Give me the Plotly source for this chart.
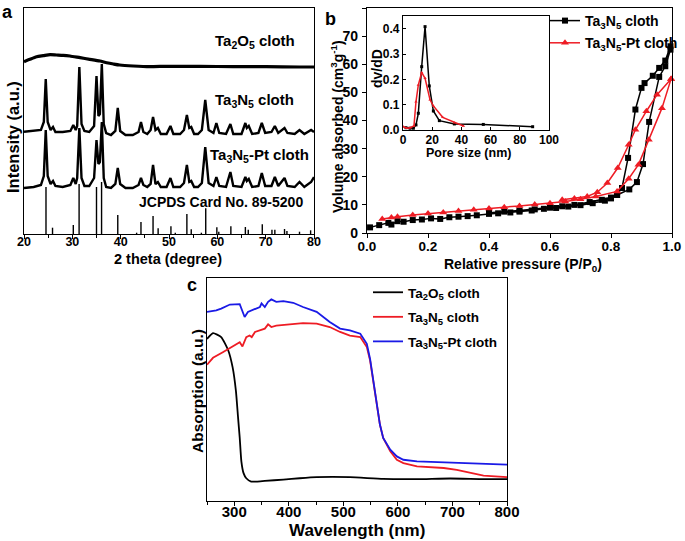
import plotly.graph_objects as go

W, H = 685, 541
FONT = "Liberation Sans, Arial, sans-serif"


def px_x(x):
    return x / W


def px_y(y):
    return 1 - y / H


# ---------------- Panel a : XRD ----------------
ta2o5_theta = [20, 21.2, 22.6, 24.0, 25.4, 26.7, 28.1, 29.5, 31.6, 33.6, 35.7, 37.1, 38.5,
               39.8, 42.6, 46.0, 49.5, 52.9, 56.4, 63.3, 70.1, 77.0, 80]
ta2o5_int = [172.3, 174.7, 177.3, 178.3, 179.3, 179.0, 178.7, 178.0, 176.3, 174.7, 173.0, 171.3,
             170.0, 169.0, 168.0, 167.3, 167.7, 167.7, 167.7, 167.3, 167.3, 167.0, 167.0]

xrd_theta = [20, 22, 23.5, 24.1, 24.5, 24.9, 25.5, 26.0, 26.5, 28, 29.6, 30.2, 30.7, 31.0,
             31.45, 31.9, 32.5, 33.5, 34.5, 35.0, 35.4, 35.7, 36.1, 36.5, 37.0, 38.0, 38.9,
             39.4, 39.9, 41, 42.5, 43.7, 44.2, 44.7, 45.5, 46.2, 46.7, 47.2, 47.7, 48.3, 49.5,
             50.3, 50.9, 52.3, 53.1, 53.7, 54.2, 54.6, 55.2, 56.0, 56.8, 57.5, 58.2, 59.2,
             59.8, 60.4, 61.8, 62.7, 63.3, 65.0, 65.8, 66.1, 66.5, 67.2, 68.5, 69.2, 69.9,
             71.2, 71.9, 72.6, 73.9, 74.5, 76, 77, 78, 79.4, 80]
ta3n5_int = [102.3, 103, 104, 112, 155, 112, 104, 107, 102, 102, 103, 109, 104, 108,
             167, 110, 103, 102, 108, 158, 118, 120, 170, 110, 101, 99, 103,
             126, 103, 99, 99, 102, 112, 102, 100, 104, 117, 104, 106, 100, 100,
             108, 100, 100, 104, 119, 106, 107, 100, 100, 104, 134, 104, 101,
             111, 101, 100, 110, 100, 100, 111, 106, 108, 100, 101, 111, 101,
             102, 108, 101, 106, 101, 100, 104, 100, 104, 102]
ta3n5pt_int = [46, 47, 49, 58, 104, 58, 50, 53, 48, 47, 49, 56, 50, 56,
               106, 56, 48, 48, 56, 94, 70, 72, 112, 56, 47, 46, 50,
               66, 50, 46, 46, 49, 56, 49, 47, 50, 69, 50, 52, 47, 47,
               56, 47, 47, 51, 69, 52, 53, 47, 47, 51, 87, 51, 48,
               57, 48, 47, 62, 48, 47, 57, 53, 55, 47, 48, 61, 48,
               48, 57, 48, 56, 48, 47, 52, 47, 52, 57]

stick_theta = [24.55, 25.9, 30.2, 31.4, 35.0, 36.05, 39.4, 43.3, 44.2, 46.7, 47.75, 50.4, 51.3,
               53.7, 54.6, 56.7, 57.6, 59.9, 60.3, 62.8, 65.8, 66.4, 69.3, 71.3, 71.9, 73.9,
               74.4, 77.0, 79.3]
stick_height = [47, 6.3, 9, 50, 47, 52, 19, 1.3, 12, 18, 5.7, 7.7, 1.3, 20, 4.7, 1.3, 25.7,
                6.7, 2.3, 7.7, 7, 4.3, 9.7, 4.3, 4.3, 5, 3, 2.3, 3.7]

# ---------------- Panel b : N2 isotherms ----------------
ta3n5_p = [0.01, 0.04, 0.07, 0.08, 0.10, 0.12, 0.15, 0.18, 0.21, 0.24, 0.27, 0.30, 0.33, 0.36,
           0.40, 0.43, 0.47, 0.50, 0.54, 0.58, 0.62, 0.66, 0.70, 0.74, 0.78, 0.80, 0.82, 0.86,
           0.885, 0.905, 0.925, 0.958, 0.978, 0.995,
           0.995, 0.978, 0.958, 0.937, 0.91, 0.90, 0.88, 0.856, 0.836, 0.82, 0.80, 0.77,
           0.73, 0.68, 0.64, 0.60, 0.55, 0.50, 0.45, 0.40]
ta3n5_v = [2.0, 2.8, 3.6, 3.0, 4.2, 4.0, 4.6, 4.8, 5.2, 5.0, 5.6, 5.8, 6.0, 6.3,
           6.8, 7.0, 7.3, 7.6, 8.0, 8.6, 8.9, 9.4, 9.9, 10.6, 11.5, 12.3, 13.5, 15.5,
           18.1, 24.5, 39.5, 55.5, 59.3, 65.2,
           66.4, 61.3, 58.7, 55.9, 53.3, 51.6, 43.9, 26.7, 16.0, 13.6, 12.6, 11.8,
           11.0, 10.0, 9.5, 9.0, 8.4, 8.0, 7.6, 7.2]
ta3n5pt_p = [0.05, 0.08, 0.10, 0.15, 0.20, 0.25, 0.30, 0.35, 0.40, 0.45, 0.50, 0.55, 0.60,
             0.65, 0.70, 0.75, 0.82, 0.858, 0.89, 0.924, 0.967, 0.997,
             0.997, 0.951, 0.916, 0.88, 0.858, 0.822, 0.788, 0.755, 0.722, 0.68, 0.64]
ta3n5pt_v = [5.0, 5.5, 5.8, 6.4, 6.9, 7.3, 7.8, 8.3, 8.7, 9.2, 9.6, 10.1, 10.6,
             11.2, 12.0, 13.0, 14.8, 19.3, 24.3, 33.2, 44.4, 54.8,
             54.8, 49.2, 43.3, 36.7, 31.4, 23.1, 17.8, 14.5, 13.0, 12.3, 11.8]

# inset: pore size distribution
psd_ta3n5_d = [2.05, 4.8, 7.1, 8.9, 10.5, 12.8, 15.1, 18.0, 20.8, 24.9, 35.2, 55.0, 88.8]
psd_ta3n5_v = [0.009, 0.007, 0.007, 0.020, 0.066, 0.250, 0.408, 0.174, 0.075, 0.037, 0.024,
               0.022, 0.013]
psd_pt_d = [0.2, 2.5, 4.8, 7.5, 8.9, 10.5, 12.8, 15.1, 18.5, 20.8, 27.2, 35.2, 41.4]
psd_pt_v = [0.013, 0.007, 0.009, 0.016, 0.112, 0.178, 0.227, 0.204, 0.119, 0.095, 0.050,
            0.029, 0.016]

# ---------------- Panel c : UV-vis ----------------
ta2o5_wl = [250, 261, 276, 289, 297, 303, 307, 310, 313, 317, 322, 331, 341, 356, 390, 420,
            451, 512, 573, 635, 696, 757, 800]
ta2o5_abs = [0.727, 0.753, 0.735, 0.675, 0.599, 0.494, 0.373, 0.283, 0.178, 0.125, 0.102,
             0.087, 0.087, 0.090, 0.096, 0.102, 0.107, 0.107, 0.099, 0.098, 0.101, 0.098, 0.098]
ta3n5_wl = [250, 261, 279, 298, 310, 315, 322, 328, 332, 338, 347, 356, 362, 368, 377, 402,
            426, 451, 475, 494, 512, 531, 543, 549, 555, 561, 567, 573, 586, 598, 610, 635,
            659, 684, 708, 733, 757, 800]
ta3n5_abs = [0.611, 0.642, 0.667, 0.693, 0.712, 0.693, 0.735, 0.742, 0.735, 0.758, 0.765,
             0.773, 0.792, 0.780, 0.786, 0.792, 0.798, 0.795, 0.780, 0.758, 0.742, 0.735,
             0.690, 0.630, 0.539, 0.434, 0.343, 0.283, 0.223, 0.185, 0.170, 0.155, 0.151,
             0.148, 0.140, 0.125, 0.114, 0.107]
pt_wl = [250, 267, 276, 292, 310, 313, 319, 325, 331, 341, 347, 350, 356, 362, 368, 377, 390,
         408, 426, 451, 475, 494, 512, 531, 543, 549, 555, 561, 567, 573, 586, 598, 610, 635,
         696, 757, 800]
pt_abs = [0.848, 0.855, 0.863, 0.881, 0.883, 0.863, 0.825, 0.848, 0.855, 0.863, 0.870,
          0.886, 0.870, 0.893, 0.904, 0.893, 0.896, 0.889, 0.870, 0.848, 0.803, 0.773,
          0.765, 0.750, 0.705, 0.637, 0.539, 0.434, 0.343, 0.283, 0.230, 0.200, 0.185,
          0.178, 0.173, 0.169, 0.163]

RED = "#ee1c24"
BLUE = "#1a1ae6"

fig = go.Figure()

# ---- panel a traces ----
sx, sy = [], []
for t, h in zip(stick_theta, stick_height):
    sx += [t, t, None]
    sy += [0, h, None]
fig.add_trace(go.Scatter(x=sx, y=sy, mode="lines", line=dict(color="black", width=1.4),
                         xaxis="x", yaxis="y", showlegend=False))
fig.add_trace(go.Scatter(x=ta2o5_theta, y=ta2o5_int, mode="lines",
                         line=dict(color="black", width=3.2, shape="spline", smoothing=0.6),
                         xaxis="x", yaxis="y", showlegend=False))
fig.add_trace(go.Scatter(x=xrd_theta, y=ta3n5_int, mode="lines",
                         line=dict(color="black", width=2.4),
                         xaxis="x", yaxis="y", showlegend=False))
fig.add_trace(go.Scatter(x=xrd_theta, y=ta3n5pt_int, mode="lines",
                         line=dict(color="black", width=2.4),
                         xaxis="x", yaxis="y", showlegend=False))

# ---- panel b traces ----
fig.add_trace(go.Scatter(x=ta3n5_p, y=ta3n5_v, mode="lines+markers",
                         name="Ta<sub>3</sub>N<sub>5</sub> cloth",
                         line=dict(color="black", width=1.5),
                         marker=dict(symbol="square", size=6, color="black"),
                         xaxis="x2", yaxis="y2", legend="legend", legendgroup="g1",
                         cliponaxis=False))
fig.add_trace(go.Scatter(x=ta3n5pt_p, y=ta3n5pt_v, mode="lines+markers",
                         name="Ta<sub>3</sub>N<sub>5</sub>-Pt cloth",
                         line=dict(color=RED, width=1.5),
                         marker=dict(symbol="triangle-up", size=7, color=RED),
                         xaxis="x2", yaxis="y2", legend="legend", legendgroup="g2",
                         cliponaxis=False))
# inset
fig.add_trace(go.Scatter(x=psd_ta3n5_d, y=psd_ta3n5_v, mode="lines+markers",
                         line=dict(color="black", width=1.5),
                         marker=dict(symbol="square", size=3, color="black"),
                         xaxis="x4", yaxis="y4", showlegend=False))
fig.add_trace(go.Scatter(x=psd_pt_d, y=psd_pt_v, mode="lines+markers",
                         line=dict(color=RED, width=1.5),
                         marker=dict(symbol="triangle-up", size=3, color=RED),
                         xaxis="x4", yaxis="y4", showlegend=False))

# ---- panel c traces ----
fig.add_trace(go.Scatter(x=ta2o5_wl, y=ta2o5_abs, mode="lines",
                         name="Ta<sub>2</sub>O<sub>5</sub> cloth",
                         line=dict(color="black", width=1.8, shape="spline", smoothing=0.5),
                         xaxis="x3", yaxis="y3", legend="legend2", legendgroup="c1"))
fig.add_trace(go.Scatter(x=ta3n5_wl, y=ta3n5_abs, mode="lines",
                         name="Ta<sub>3</sub>N<sub>5</sub> cloth",
                         line=dict(color=RED, width=1.8),
                         xaxis="x3", yaxis="y3", legend="legend2", legendgroup="c2"))
fig.add_trace(go.Scatter(x=pt_wl, y=pt_abs, mode="lines",
                         name="Ta<sub>3</sub>N<sub>5</sub>-Pt cloth",
                         line=dict(color=BLUE, width=1.8),
                         xaxis="x3", yaxis="y3", legend="legend2", legendgroup="c3"))


def tf(size):
    return dict(family=FONT, size=size, color="black", weight="bold")


frame = dict(showline=True, linecolor="black", linewidth=1.3, mirror=True,
             showgrid=False, zeroline=False, automargin=False)

fig.update_layout(
    width=W, height=H,
    margin=dict(l=0, r=0, t=0, b=0, autoexpand=False),
    paper_bgcolor="white", plot_bgcolor="white",
    font=dict(family=FONT, color="black", weight="bold"),
    xaxis=dict(domain=[px_x(24), px_x(314)], range=[20, 80], anchor="y",
               dtick=10, ticks="outside", ticklen=4, tickwidth=1.3, tickcolor="black",
               minor=dict(ticks="outside", dtick=5, ticklen=2.5, tickcolor="black"),
               tickfont=tf(12.5), ticklabelstandoff=-8, **frame),
    yaxis=dict(domain=[px_y(234), px_y(8)], range=[0, 226], anchor="x",
               showticklabels=False, ticks="", **frame),
    xaxis2=dict(domain=[px_x(367), px_x(672)], range=[0, 1.0], anchor="y2",
                dtick=0.2, tickformat=".1f", ticks="outside", ticklen=4, tickwidth=1.3,
                tickcolor="black", tickfont=tf(13.5), ticklabelstandoff=-3, **frame),
    yaxis2=dict(domain=[px_y(233), px_y(8)], range=[0, 80], anchor="x2",
                dtick=10, ticks="outside", ticklen=4, tickwidth=1.3, tickcolor="black",
                tickfont=tf(14), ticklabelstandoff=1, **frame),
    xaxis3=dict(domain=[px_x(207), px_x(507)], range=[250, 800], anchor="y3",
                tick0=0, dtick=100, ticks="outside", ticklen=4, tickwidth=1.3,
                tickcolor="black",
                minor=dict(ticks="outside", dtick=50, ticklen=2.5, tickcolor="black"),
                tickfont=tf(15), ticklabelstandoff=-7, **frame),
    yaxis3=dict(domain=[px_y(501), px_y(278)], range=[0, 1], anchor="x3",
                showticklabels=False, ticks="", **frame),
    xaxis4=dict(domain=[px_x(403), px_x(549)], range=[0, 100], anchor="y4",
                dtick=20, ticks="inside", ticklen=3, tickcolor="black",
                tickfont=tf(12), ticklabelstandoff=-2, **frame),
    yaxis4=dict(domain=[px_y(130), px_y(16)], range=[0, 0.45], anchor="x4",
                dtick=0.1, tickformat=".1f", ticks="inside", ticklen=3, tickcolor="black",
                tickfont=tf(12), **frame),
    legend=dict(x=px_x(545), y=px_y(5), xanchor="left", yanchor="top",
                bgcolor="rgba(0,0,0,0)", font=tf(14), tracegroupgap=1,
                traceorder="grouped"),
    legend2=dict(x=px_x(368), y=px_y(277), xanchor="left", yanchor="top",
                 bgcolor="rgba(0,0,0,0)", font=tf(13.5), tracegroupgap=4,
                 traceorder="grouped"),
)

ann = []


def add_text(text, x, y, size, xanchor="center", angle=0):
    ann.append(dict(text=text, x=px_x(x), y=px_y(y), xref="paper", yref="paper",
                    xanchor=xanchor, yanchor="middle", showarrow=False, textangle=angle,
                    font=tf(size)))


# panel labels
add_text("a", 8, 12, 18)
add_text("b", 330, 19, 18)
add_text("c", 192, 285, 18)
# panel a texts
add_text("Ta<sub>2</sub>O<sub>5</sub> cloth", 213, 42, 15, xanchor="left")
add_text("Ta<sub>3</sub>N<sub>5</sub> cloth", 213, 100, 15, xanchor="left")
add_text("Ta<sub>3</sub>N<sub>5</sub>-Pt cloth", 208, 155, 15, xanchor="left")
add_text("JCPDS Card No. 89-5200", 137, 202, 14, xanchor="left")
add_text("2 theta (degree)", 168, 259, 14.5)
add_text("Intensity (a.u.)", 13, 137, 16.5, angle=-90)
# panel b texts
add_text("Relative pressure (P/P<sub>0</sub>)", 523, 265, 14)
add_text("Volume absorbed (cm<sup>3</sup>g<sup>-1</sup>)", 337, 127, 14, angle=-90)
add_text("Pore size (nm)", 468, 153, 12.5)
add_text("dv/dD", 377, 69, 14, angle=-90)
# panel c texts
add_text("Wavelength (nm)", 357, 530, 17)
add_text("Absorption (a.u.)", 197, 391, 15.5, angle=-90)

fig.update_layout(annotations=ann)

fig.write_html("out.html", config={"displayModeBar": False},
               post_script="document.body.style.margin='0';document.body.style.padding='0';")
